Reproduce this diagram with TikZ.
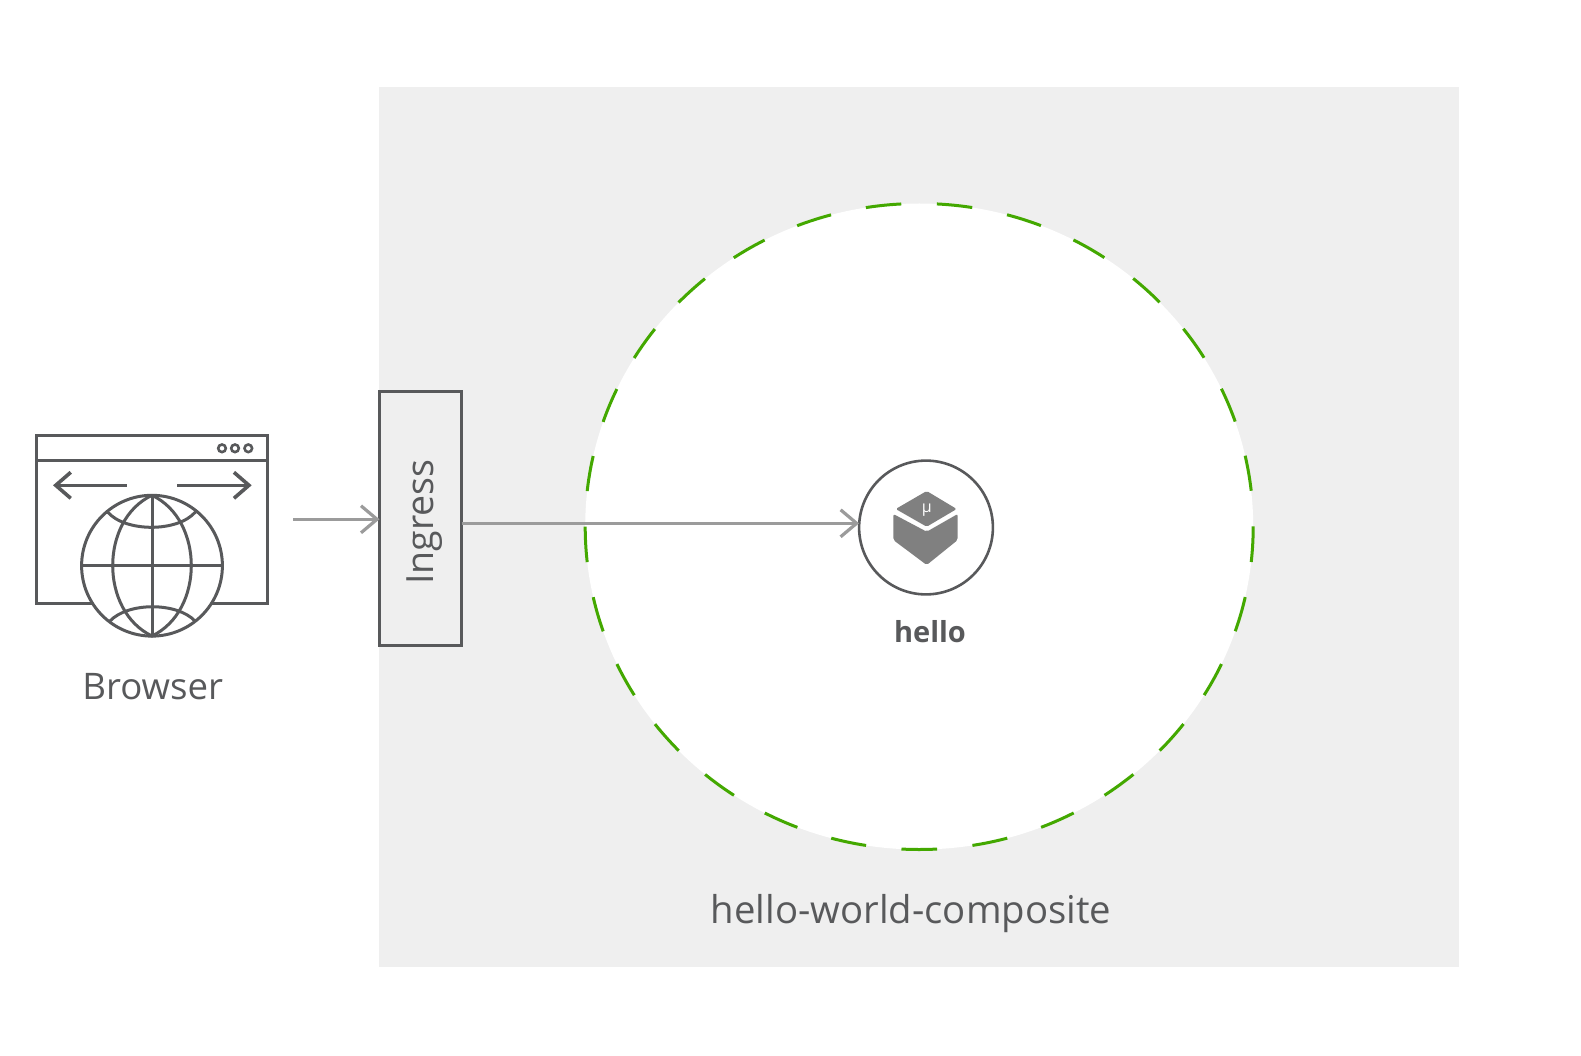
\documentclass[tikz,border=0pt]{standalone}
\usepackage{fontspec}
\setmainfont{Open Sans}
\usetikzlibrary{arrows.meta}
\definecolor{ink}{HTML}{58595B}
\definecolor{arrowgray}{HTML}{9B9B9B}
\definecolor{panel}{HTML}{EFEFEF}
\definecolor{scope}{HTML}{43A800}
\definecolor{cube}{HTML}{808080}
\tikzset{
  icon/.style={draw=ink,line width=3pt},
  big/.style={text=ink,inner sep=0pt,font=\fontsize{37.5}{40}\selectfont},
  flow/.style={draw=arrowgray,line width=2.6pt,-{Straight Barb[length=16pt,width=27pt,line width=3.2pt]}},
  nav/.style={draw=ink,line width=3.2pt,-{Straight Barb[length=15pt,width=26pt,line width=3.6pt]}},
}
\begin{document}
\begin{tikzpicture}[x=1pt,y=-1pt]
\useasboundingbox (0,0) rectangle (1581,1056);
% panel and scope
\fill[panel] (379.3,87) rectangle (1459,967);
\fill[white] (919.2,526.5) ellipse [x radius=334,y radius=323];
\draw[scope,line width=3pt,dash pattern=on 35.6pt off 35.58pt] (919.2,526.5) ellipse [x radius=334,y radius=323];
% browser icon
\draw[icon] (36,435) rectangle (267.5,603);
\draw[icon] (36,460) -- (267.5,460);
\foreach \cx in {222,235,248.3} \draw[draw=ink,line width=2.6pt] (\cx,448.3) circle [radius=3.8];
\coordinate (navl) at (126.7,485.3);
\coordinate (navlt) at (53,485.3);
\coordinate (navr) at (177,485.3);
\coordinate (navrt) at (251.7,485.3);
\draw[nav] (navl) -- (navlt);
\draw[nav] (navr) -- (navrt);
\draw[icon,fill=white] (152,565.7) circle [radius=70.4];
\draw[icon] (152,495.3) -- (152,636);
\draw[icon] (81.6,565.7) -- (222.4,565.7);
\draw[icon] (152,495.3) .. controls (99.6,520) and (99.6,611) .. (152,636)
            .. controls (204.4,611) and (204.4,520) .. (152,495.3);
\draw[icon] (107.3,511.7) .. controls (125,532.5) and (178,532.5) .. (195.7,511.7);
\draw[icon] (110,621) .. controls (128,602) and (177,602) .. (195,621);
\node[big,anchor=base,font=\fontsize{36.6}{40}\selectfont] (browser) at (152.8,699) {Browser};
% ingress
\node[draw=ink,line width=3pt,minimum width=82.2pt,minimum height=254pt,inner sep=0pt,outer sep=0pt] (ingress) at (420.6,518) {};
\node[big,rotate=90,anchor=base] (ingresslabel) at (433.5,522) {Ingress};
% service
\node[circle,draw=ink,fill=white,line width=2.6pt,minimum size=133.8pt,inner sep=0pt,outer sep=0pt] (svc) at (926,527.5) {};
\fill[cube,rounded corners=1.5pt] (926.7,491) -- (956.7,509) -- (926.7,526.7) -- (895.7,509) -- cycle;
\fill[cube,rounded corners=2pt] (893.3,514) -- (926.7,531.7) -- (957.7,514) -- (957.7,540) -- (926.7,565) -- (893.3,540) -- cycle;
\node[text=white,inner sep=0pt,font=\fontsize{16}{16}\selectfont] (mu) at (926.7,510) {µ};
\node[text=ink,inner sep=0pt,anchor=base,font=\fontsize{29}{32}\selectfont\bfseries] (hello) at (930,642.3) {hello};
\node[big,anchor=base,font=\fontsize{38.3}{40}\selectfont] (composite) at (911,923.3) {hello-world-composite};
% connectors
\coordinate (in) at (293.3,519.3);
\draw[flow] (in) -- (in -| ingress.west);
\coordinate (out) at (ingress.east |- 0,523.3);
\draw[flow] (out) -- (out -| svc.west);
\end{tikzpicture}
\end{document}
